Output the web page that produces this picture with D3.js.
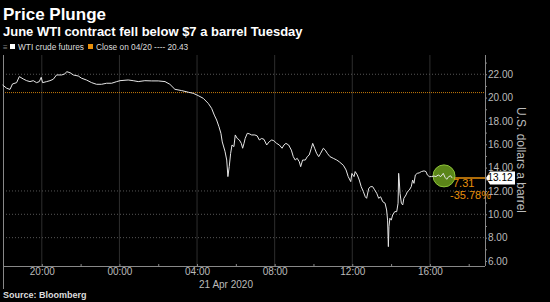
<!DOCTYPE html>
<html lang="en">
<head>
<meta charset="UTF-8">
<title>Price Plunge</title>
<script src="https://d3js.org/d3.v7.min.js"></script>
<style>
  body { margin: 0; background: #000; }
  svg { display: block; font-family: "Liberation Sans", Arial, sans-serif; }
</style>
</head>
<body>
<svg width="550" height="302"></svg>
<script>

// hours from 00:00 on 21 Apr 2020 (negative = 20 Apr)
var hours = [-6.02,-5.81,-5.64,-5.51,-5.30,-5.16,-4.96,-4.78,-4.61,-4.44,-4.27,-4.13,-4.03,-3.96,-3.75,-3.58,
  -3.41,-3.24,-2.98,-2.81,-2.72,-2.55,-2.38,-2.12,-1.95,-1.69,-1.43,-1.18,-0.92,-0.66,-0.40,-0.14,0.03,
  0.45,0.71,0.97,1.31,1.66,2.00,2.35,2.60,2.86,3.21,3.55,3.80,4.06,4.32,4.58,4.75,4.89,5.01,5.13,5.23,5.30,
  5.44,5.53,5.59,5.66,5.73,5.80,5.90,5.97,6.07,6.18,6.28,6.35,6.42,6.48,6.59,6.69,6.81,6.98,7.10,7.21,7.33,
  7.45,7.59,7.72,7.85,7.96,8.10,8.24,8.38,8.48,8.58,8.72,8.86,8.96,9.06,9.16,9.27,9.34,9.44,9.58,9.68,9.78,
  9.89,9.96,10.06,10.16,10.27,10.37,10.51,10.61,10.71,10.85,11.02,11.20,11.33,11.54,11.68,11.79,11.92,11.98,
  12.09,12.15,12.26,12.36,12.46,12.57,12.67,12.74,12.85,12.95,13.05,13.15,13.26,13.36,13.46,13.57,13.69,
  13.77,13.82,13.86,13.89,13.94,14.01,14.08,14.19,14.29,14.36,14.39,14.42,14.46,14.53,14.60,14.66,14.77,
  14.84,14.94,15.04,15.11,15.18,15.25,15.35,15.45,15.56,15.70,15.80,15.87,15.97,16.09,16.21,16.31,16.43,
  16.56,16.69,16.78,16.87,16.97,17.07,17.14];

var prices = [21.08,20.80,20.70,21.17,21.28,21.80,21.60,21.45,21.37,21.45,21.28,21.37,21.74,21.28,21.37,21.45,
  21.57,21.94,21.94,22.03,22.22,22.14,21.94,21.85,21.66,21.50,21.28,21.14,21.14,21.23,21.23,21.37,21.45,
  21.51,21.45,21.37,21.45,21.43,21.43,21.37,21.14,20.71,20.60,20.46,20.37,20.17,19.94,19.50,19.08,18.50,18.08,17.50,16.94,16.20,
  15.40,14.65,13.23,14.10,15.20,15.94,15.80,16.80,16.50,16.37,16.08,15.66,16.08,16.50,16.94,16.90,16.80,16.80,16.72,16.37,16.50,
  16.42,15.94,16.22,16.37,16.30,16.08,15.94,15.66,15.94,16.08,15.94,15.50,14.94,14.65,14.80,14.50,14.08,14.65,14.65,14.94,15.08,
  15.66,16.08,15.66,15.23,14.94,15.23,15.66,15.50,15.23,14.94,14.80,14.65,14.50,14.20,13.80,13.23,12.80,13.50,
  13.23,13.66,13.37,12.94,12.37,11.94,11.50,11.37,12.23,12.37,12.37,12.10,11.80,11.37,11.50,11.08,10.95,
  10.37,9.50,7.23,8.94,9.66,9.50,9.94,10.23,10.23,10.95,13.51,12.94,11.80,10.95,10.80,11.37,11.66,
  11.94,12.08,12.37,12.94,12.65,13.37,13.51,13.55,13.66,13.72,13.66,13.37,13.23,13.23,13.28,13.23,13.37,
  13.23,13.51,13.17,13.00,13.23,13.30,13.12];

var closePrev = 20.43;
var lastPrice = 13.12;
var changeLabels = ["7.31", "-35.78%"];
var yTicks = [6, 8, 10, 12, 14, 16, 18, 20, 22];
var yGrid = [8, 10, 12, 22];
var legendLabels = ["WTI crude futures", "Close on 04/20 ---- 20.43"];

var base = new Date(2020, 3, 21, 0, 0);
function toDate(h) { return new Date(base.getTime() + h * 3600 * 1000); }
var data = hours.map(function (h, i) { return { t: toDate(h), v: prices[i] }; });

var svg = d3.select("svg");
var pLeft = 3, pRight = 485, pTop = 55, pBottom = 266;
var orange = "#e8900c";

var x = d3.scaleTime().domain([toDate(-6.0), toDate(18.84)]).range([pLeft, pRight]);
var y = d3.scaleLinear().domain([5.57, 23.65]).range([pBottom, pTop]);

// titles
svg.append("text").attr("x", 3).attr("y", 20).attr("fill", "#fff")
  .attr("font-size", 17).attr("font-weight", "bold").text("Price Plunge");
svg.append("text").attr("x", 3).attr("y", 36).attr("fill", "#fff")
  .attr("font-size", 13).attr("font-weight", "bold").text("June WTI contract fell below $7 a barrel Tuesday");

// legend
svg.append("text").attr("x", 3).attr("y", 50).attr("fill", "#888").attr("font-size", 8).text("≡");
svg.append("rect").attr("x", 10).attr("y", 44).attr("width", 5).attr("height", 5).attr("fill", "#fff");
svg.append("text").attr("x", 18).attr("y", 50).attr("fill", "#ddd").attr("font-size", 8.3).text(legendLabels[0]);
svg.append("rect").attr("x", 88).attr("y", 44).attr("width", 5).attr("height", 5).attr("fill", orange);
svg.append("text").attr("x", 96).attr("y", 50).attr("fill", "#ddd").attr("font-size", 8.3).text(legendLabels[1]);

// vertical grid
var major = x.ticks(d3.timeHour.every(4));
svg.selectAll(".vgrid").data(major).enter().append("line")
  .attr("x1", function (d) { return x(d); }).attr("x2", function (d) { return x(d); })
  .attr("y1", pTop).attr("y2", pBottom)
  .attr("stroke", "#2e2e2e").attr("stroke-width", 1);

// horizontal dotted grid
svg.selectAll(".hgrid").data(yGrid).enter().append("line")
  .attr("x1", pLeft).attr("x2", pRight)
  .attr("y1", function (d) { return y(d); }).attr("y2", function (d) { return y(d); })
  .attr("stroke", "#555").attr("stroke-dasharray", "1,2");

// previous close line
svg.append("line").attr("x1", pLeft).attr("x2", pRight)
  .attr("y1", y(closePrev)).attr("y2", y(closePrev))
  .attr("stroke", orange).attr("stroke-width", 1).attr("stroke-dasharray", "1,1").attr("opacity", 0.85);

// left frame line
svg.append("line").attr("x1", pLeft + 0.5).attr("x2", pLeft + 0.5).attr("y1", pTop).attr("y2", 289)
  .attr("stroke", "#888");

// x axis
var xAxis = svg.append("g").attr("transform", "translate(0," + pBottom + ")")
  .call(d3.axisBottom(x).ticks(d3.timeHour.every(2)).tickSize(2).tickFormat(function (d) {
    return d.getHours() % 4 === 0 ? d3.timeFormat("%H:%M")(d) : "";
  }));
xAxis.select(".domain").attr("stroke", "#888").attr("d", "M" + pLeft + ",0.5H" + pRight);
xAxis.selectAll(".tick line").attr("stroke", "#888").attr("y2", -2);
xAxis.selectAll(".tick text").attr("fill", "#bbb").attr("font-size", 10)
  .attr("font-family", "Liberation Sans, Arial, sans-serif").attr("dy", "0.45em").attr("y", 4);
svg.append("text").attr("x", 226).attr("y", 288).attr("text-anchor", "middle")
  .attr("fill", "#bbb").attr("font-size", 10).text("21 Apr 2020");

// y axis
var yAxis = svg.append("g").attr("transform", "translate(" + pRight + ",0)")
  .call(d3.axisRight(y).tickValues(d3.range(6, 24, 1)).tickSize(2).tickFormat(function (d) {
    return yTicks.indexOf(d) >= 0 ? d3.format(".2f")(d) : "";
  }));
yAxis.select(".domain").attr("stroke", "#888").attr("d", "M0.5," + pTop + "V" + pBottom);
yAxis.selectAll(".tick line").attr("stroke", "#888");
yAxis.selectAll(".tick text").attr("fill", "#bbb").attr("font-size", 10)
  .attr("font-family", "Liberation Sans, Arial, sans-serif").attr("x", 3);

svg.append("text").attr("transform", "translate(517,160) rotate(90)")
  .attr("text-anchor", "middle").attr("fill", "#bbb").attr("font-size", 12)
  .text("U.S. dollars a barrel");

// price line
var line = d3.line().x(function (d) { return x(d.t); }).y(function (d) { return y(d.v); });
var last = data[data.length - 1];

// orange change line
svg.append("line").attr("x1", x(last.t)).attr("x2", pRight)
  .attr("y1", y(lastPrice)).attr("y2", y(lastPrice))
  .attr("stroke", orange).attr("stroke-width", 1.5);

svg.append("circle").attr("cx", x(last.t) - 8).attr("cy", y(lastPrice) - 2).attr("r", 11)
  .attr("fill", "#6b9c1c").attr("fill-opacity", 0.85).attr("stroke", "#8dc43a").attr("stroke-width", 1);

svg.append("path").datum(data).attr("d", line).attr("fill", "none")
  .attr("stroke", "#e6e6e6").attr("stroke-width", 1).attr("stroke-linejoin", "miter");

svg.append("text").attr("x", x(last.t) + 1).attr("y", y(lastPrice) + 9).attr("fill", orange)
  .attr("font-size", 11).text(changeLabels[0]);
svg.append("text").attr("x", x(last.t) - 2).attr("y", y(lastPrice) + 21).attr("fill", orange)
  .attr("font-size", 11).text(changeLabels[1]);

// last price tag
var ty = y(lastPrice);
svg.append("path")
  .attr("d", "M" + (pRight + 1) + "," + ty + "L" + (pRight + 5) + "," + (ty - 6.5) + "H515V" + (ty + 6.5) + "H" + (pRight + 5) + "Z")
  .attr("fill", "#fff");
svg.append("text").attr("x", 500).attr("y", ty + 3.6).attr("text-anchor", "middle")
  .attr("fill", "#000").attr("font-size", 10).text(d3.format(".2f")(lastPrice));

// source
svg.append("text").attr("x", 3).attr("y", 298).attr("fill", "#ddd")
  .attr("font-size", 9).attr("font-weight", "bold").text("Source: Bloomberg");

</script>
</body>
</html>
